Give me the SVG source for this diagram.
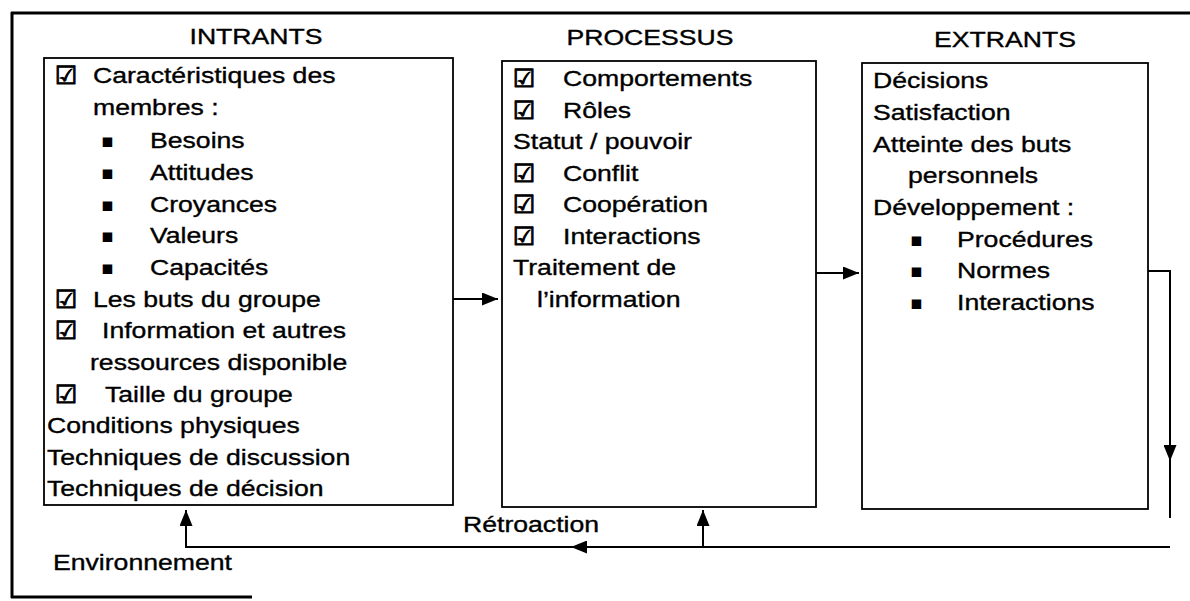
<svg xmlns="http://www.w3.org/2000/svg" width="1190" height="601" viewBox="0 0 1190 601">
<style>
  .t { font-family: "Liberation Sans", Arial, sans-serif; font-size: 22px; fill: #000; stroke: #000; stroke-width: 0.35; }
  .c { font-family: "DejaVu Sans", sans-serif; font-size: 25px; fill: #000; stroke: #000; stroke-width: 1; }
  .b { font-family: "DejaVu Sans", sans-serif; font-size: 19px; fill: #000; }
  .box { fill: #fff; stroke: #000; stroke-width: 1.8; }
  .ln { fill: none; stroke: #000; stroke-width: 2; }
  .frame { fill: none; stroke: #000; stroke-width: 3; }
</style>
<defs>
  <marker id="ah" viewBox="0 0 16 13" refX="16" refY="6.5" markerWidth="16" markerHeight="13" markerUnits="userSpaceOnUse" orient="auto">
    <path d="M0,0 L16,6.5 L0,13 Z" fill="#000"/>
  </marker>
</defs>
<rect width="1190" height="601" fill="#fff"/>
<g id="frame">
  <line class="frame" x1="11" y1="13" x2="1190" y2="13"/>
  <line class="frame" x1="12" y1="12" x2="12" y2="598"/>
  <line class="frame" x1="11" y1="597" x2="252" y2="597"/>
</g>
<g id="intrants">
  <text class="t" text-anchor="middle" transform="translate(256 44) scale(1.21 1)">INTRANTS</text>
  <rect class="box" x="44" y="58" width="409" height="447"/>
  <text class="c" x="55" y="84">☑</text>
  <text class="t" transform="translate(93 83) scale(1.21 1)">Caractéristiques des</text>
  <text class="t" transform="translate(93 115) scale(1.21 1)">membres :</text>
  <text class="b" x="101" y="147">▪</text>
  <text class="t" transform="translate(150 148) scale(1.21 1)">Besoins</text>
  <text class="b" x="101" y="179">▪</text>
  <text class="t" transform="translate(150 180) scale(1.21 1)">Attitudes</text>
  <text class="b" x="101" y="211">▪</text>
  <text class="t" transform="translate(150 212) scale(1.21 1)">Croyances</text>
  <text class="b" x="101" y="242">▪</text>
  <text class="t" transform="translate(150 243) scale(1.21 1)">Valeurs</text>
  <text class="b" x="101" y="274">▪</text>
  <text class="t" transform="translate(150 275) scale(1.21 1)">Capacités</text>
  <text class="c" x="55" y="308">☑</text>
  <text class="t" transform="translate(93 307) scale(1.21 1)">Les buts du groupe</text>
  <text class="c" x="55" y="339">☑</text>
  <text class="t" transform="translate(102 338) scale(1.21 1)">Information et autres</text>
  <text class="t" transform="translate(90 370) scale(1.21 1)">ressources disponible</text>
  <text class="c" x="55" y="403">☑</text>
  <text class="t" transform="translate(105 402) scale(1.21 1)">Taille du groupe</text>
  <text class="t" transform="translate(47 433) scale(1.21 1)">Conditions physiques</text>
  <text class="t" transform="translate(47 465) scale(1.21 1)">Techniques de discussion</text>
  <text class="t" transform="translate(47 496) scale(1.21 1)">Techniques de décision</text>
</g>
<g id="processus">
  <text class="t" text-anchor="middle" transform="translate(650 45) scale(1.21 1)">PROCESSUS</text>
  <rect class="box" x="502" y="61" width="314" height="446"/>
  <text class="c" x="513" y="87">☑</text>
  <text class="t" transform="translate(563 86) scale(1.21 1)">Comportements</text>
  <text class="c" x="513" y="118.5">☑</text>
  <text class="t" transform="translate(563 117.5) scale(1.21 1)">Rôles</text>
  <text class="t" transform="translate(513 149) scale(1.21 1)">Statut / pouvoir</text>
  <text class="c" x="513" y="181.5">☑</text>
  <text class="t" transform="translate(563 180.5) scale(1.21 1)">Conflit</text>
  <text class="c" x="513" y="213">☑</text>
  <text class="t" transform="translate(563 212) scale(1.21 1)">Coopération</text>
  <text class="c" x="513" y="244.5">☑</text>
  <text class="t" transform="translate(563 243.5) scale(1.21 1)">Interactions</text>
  <text class="t" transform="translate(513 275) scale(1.21 1)">Traitement de</text>
  <text class="t" transform="translate(537 306.5) scale(1.21 1)">l’information</text>
</g>
<g id="extrants">
  <text class="t" text-anchor="middle" transform="translate(1005 47) scale(1.21 1)">EXTRANTS</text>
  <rect class="box" x="862" y="63" width="286" height="446"/>
  <text class="t" transform="translate(873 88) scale(1.21 1)">Décisions</text>
  <text class="t" transform="translate(873 120) scale(1.21 1)">Satisfaction</text>
  <text class="t" transform="translate(873 152) scale(1.21 1)">Atteinte des buts</text>
  <text class="t" transform="translate(908 183) scale(1.21 1)">personnels</text>
  <text class="t" transform="translate(873 215) scale(1.21 1)">Développement :</text>
  <text class="b" x="910" y="246">▪</text>
  <text class="t" transform="translate(957 247) scale(1.21 1)">Procédures</text>
  <text class="b" x="910" y="277">▪</text>
  <text class="t" transform="translate(957 278) scale(1.21 1)">Normes</text>
  <text class="b" x="910" y="309">▪</text>
  <text class="t" transform="translate(957 310) scale(1.21 1)">Interactions</text>
</g>
<g id="labels">
  <text class="t" transform="translate(463 532) scale(1.21 1)">Rétroaction</text>
  <text class="t" transform="translate(53 570) scale(1.21 1)">Environnement</text>
</g>
<g id="connectors">
  <line class="ln" x1="453" y1="299" x2="498" y2="299" marker-end="url(#ah)"/>
  <line class="ln" x1="816" y1="273" x2="859" y2="273" marker-end="url(#ah)"/>
  <polyline class="ln" points="1148,271 1170,271 1170,461" marker-end="url(#ah)"/>
  <line class="ln" x1="1170" y1="455" x2="1170" y2="518"/>
  <line class="ln" x1="1170" y1="547" x2="571" y2="547" marker-end="url(#ah)"/>
  <polyline class="ln" points="575,547 186,547 186,510" marker-end="url(#ah)"/>
  <line class="ln" x1="703" y1="547" x2="703" y2="510" marker-end="url(#ah)"/>
</g>
</svg>
